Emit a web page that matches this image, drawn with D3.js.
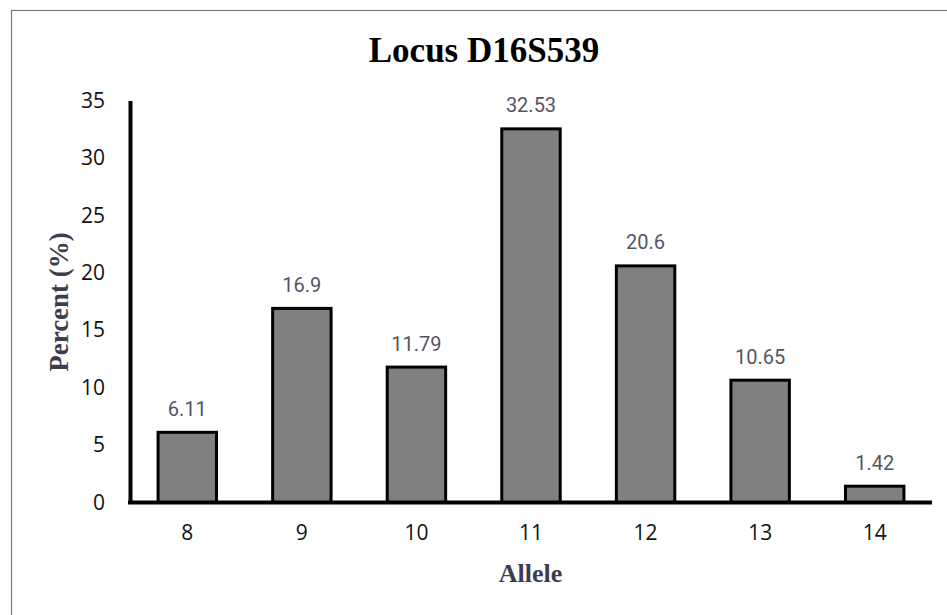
<!DOCTYPE html>
<html>
<head>
<meta charset="utf-8">
<script src="https://cdn.jsdelivr.net/npm/d3@7"></script>
<style>
  html, body { margin: 0; padding: 0; background: #fff; }
  svg { display: block; }
</style>
</head>
<body>
<svg id="chart" width="947" height="615"></svg>
<script>
// Allele frequencies at locus D16S539
const alleles = ["8", "9", "10", "11", "12", "13", "14"];
const percents = [6.11, 16.9, 11.79, 32.53, 20.6, 10.65, 1.42];
const yTicks = [0, 5, 10, 15, 20, 25, 30, 35];

const svg = d3.select("#chart");
const x0 = 130, x1 = 932, yTop = 100.5, yBase = 502.5;
const tickFont = "'Open Sans', 'Noto Sans', sans-serif";
const serif = "'Liberation Serif', 'Times New Roman', serif";

// outer frame
svg.append("rect")
  .attr("x", 11.5).attr("y", 10.5)
  .attr("width", 945).attr("height", 620)
  .attr("fill", "none").attr("stroke", "#7a7a7a").attr("stroke-width", 1.2);

const x = d3.scaleBand().domain(alleles).range([x0, x1]).paddingInner(0.49).paddingOuter(0.245);
const y = d3.scaleLinear().domain([0, 35]).range([yBase, yTop]);

// bars
svg.append("g").selectAll("rect")
  .data(percents)
  .join("rect")
  .attr("x", (d, i) => x(alleles[i]))
  .attr("width", x.bandwidth())
  .attr("y", d => y(d))
  .attr("height", d => y(0) - y(d))
  .attr("fill", "#808080")
  .attr("stroke", "#000")
  .attr("stroke-width", 3);

// value labels
svg.append("g").selectAll("text")
  .data(percents)
  .join("text")
  .attr("x", (d, i) => x(alleles[i]) + x.bandwidth() / 2)
  .attr("y", d => y(d) - 16.5)
  .attr("text-anchor", "middle")
  .attr("font-family", "Roboto, 'Open Sans', sans-serif")
  .attr("font-size", 20)
  .attr("fill", "#555563")
  .text(d => d);

// y axis
const yAxis = svg.append("g")
  .attr("transform", `translate(${x0},0)`)
  .call(d3.axisLeft(y).tickValues(yTicks).tickSize(0).tickPadding(25));
yAxis.select(".domain").attr("stroke", "#000").attr("stroke-width", 4);
yAxis.selectAll("text")
  .attr("font-family", tickFont)
  .attr("font-size", 21)
  .attr("fill", "#111");

// x axis
const xAxis = svg.append("g")
  .attr("transform", `translate(0,${yBase})`)
  .call(d3.axisBottom(x).tickSize(0).tickPadding(23));
xAxis.select(".domain").attr("stroke", "#000").attr("stroke-width", 4)
  .attr("d", `M${x0 - 2},0H${x1}`);
xAxis.selectAll("text")
  .attr("font-family", tickFont)
  .attr("font-size", 21)
  .attr("fill", "#111");

// title
svg.append("text")
  .attr("x", 484).attr("y", 62)
  .attr("text-anchor", "middle")
  .attr("font-family", serif)
  .attr("font-weight", "bold")
  .attr("font-size", 35)
  .text("Locus D16S539");

// axis titles
svg.append("text")
  .attr("transform", "translate(68,302) rotate(-90)")
  .attr("text-anchor", "middle")
  .attr("font-family", serif)
  .attr("font-weight", "bold")
  .attr("font-size", 27)
  .attr("fill", "#3d3d4e")
  .text("Percent (%)");

svg.append("text")
  .attr("x", 530.5).attr("y", 582)
  .attr("text-anchor", "middle")
  .attr("font-family", serif)
  .attr("font-weight", "bold")
  .attr("font-size", 26)
  .attr("fill", "#3d3d4e")
  .text("Allele");
</script>
</body>
</html>
